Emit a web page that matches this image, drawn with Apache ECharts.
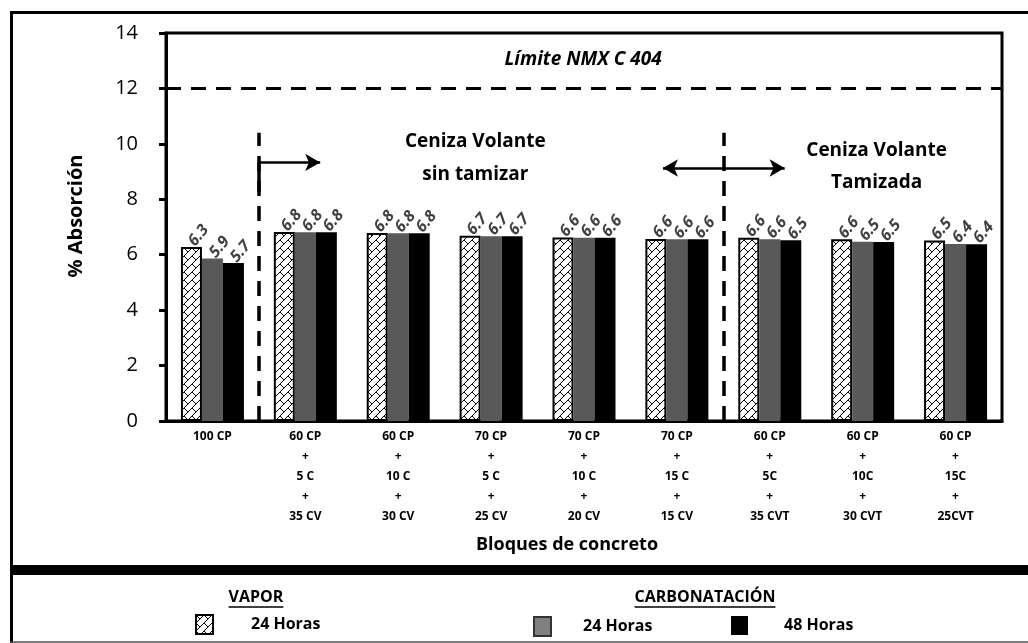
<!DOCTYPE html>
<html><head><meta charset="utf-8">
<script src="https://cdn.jsdelivr.net/npm/echarts@6/dist/echarts.min.js"></script>
<style>html,body{margin:0;padding:0;background:#fff}#c{width:1028px;height:643px}</style>
</head><body><div id="c"></div>
<script>
// ---- data ----
const categories = [
  '100 CP',
  '60 CP\n+\n5 C\n+\n35 CV',
  '60 CP\n+\n10 C\n+\n30 CV',
  '70 CP\n+\n5 C\n+\n25 CV',
  '70 CP\n+\n10 C\n+\n20 CV',
  '70 CP\n+\n15 C\n+\n15 CV',
  '60 CP\n+\n5C\n+\n35 CVT',
  '60 CP\n+\n10C\n+\n30 CVT',
  '60 CP\n+\n15C\n+\n25CVT'
];
const vapor24 = [6.28, 6.82, 6.78, 6.68, 6.62, 6.57, 6.61, 6.56, 6.51];
const carb24  = [5.86, 6.81, 6.77, 6.67, 6.61, 6.56, 6.56, 6.47, 6.39];
const carb48  = [5.70, 6.81, 6.77, 6.67, 6.61, 6.56, 6.52, 6.46, 6.38];
const seriesNames = ['Vapor 24 Horas', 'Carbonatación 24 Horas', 'Carbonatación 48 Horas'];
const limitValue = 12;
const limitText = 'Límite NMX C 404';
const yMin = 0, yMax = 14, yInterval = 2;
const sectionBounds = [1, 6];          // category boundaries for dashed dividers
const groupTexts = ['Ceniza Volante\nsin tamizar', 'Ceniza Volante\nTamizada'];
const legendHeads = ['VAPOR', 'CARBONATACIÓN'];

const FONT = 'Open Sans';

function hatch() {
  const c = document.createElement('canvas');
  c.width = 8; c.height = 8;
  const g = c.getContext('2d');
  g.fillStyle = '#fff'; g.fillRect(0, 0, 8, 8);
  g.strokeStyle = '#000'; g.lineWidth = 1;
  g.beginPath();
  g.moveTo(-1, 9); g.lineTo(9, -1);
  g.moveTo(0, 0); g.lineTo(4, 4);
  g.stroke();
  return c;
}
function textW(t, font) {
  const c = document.createElement('canvas').getContext('2d');
  c.font = font; return c.measureText(t).width;
}

const barLabel = {
  show: true, position: 'top', distance: 3, rotate: 50, align: 'left', verticalAlign: 'middle',
  fontFamily: FONT, fontStyle: 'italic', fontWeight: 'bold', fontSize: 16, color: '#404040',
  formatter: p => p.value.toFixed(1)
};

const dashV = { type: [15, 10], width: 3.5, color: '#000' };
const solid = { type: 'solid', width: 2.5, color: '#000' };

const chart = echarts.init(document.getElementById('c'), null, { renderer: 'canvas' });

const headFont = 'bold 16px "' + FONT + '"';
const w1 = textW(legendHeads[0], headFont), w2 = textW(legendHeads[1], headFont);

chart.setOption({
  animation: false,
  backgroundColor: '#fff',
  grid: { left: 166, right: 26, top: 33, bottom: 222, show: true, borderColor: '#000', borderWidth: 3 },
  xAxis: [{
    type: 'category', data: categories,
    axisLine: { lineStyle: { color: '#000', width: 3 } },
    axisTick: { show: false },
    axisLabel: { interval: 0, fontFamily: FONT, fontWeight: 'bold', fontSize: 12, color: '#000', lineHeight: 20, margin: 6 },
    name: 'Bloques de concreto', nameLocation: 'middle', nameGap: 115,
    nameTextStyle: { fontFamily: FONT, fontWeight: 'bold', fontSize: 18, color: '#000', padding: [0, 34, 0, 0] }
  }, {
    type: 'value', min: 0, max: categories.length, show: false
  }],
  yAxis: {
    type: 'value', min: yMin, max: yMax, interval: yInterval,
    axisLine: { show: true, lineStyle: { color: '#000', width: 3 } },
    axisTick: { show: true, length: 7, lineStyle: { color: '#000', width: 3 } },
    splitLine: { show: false },
    axisLabel: { fontFamily: FONT, fontSize: 20, color: '#000', margin: 28 },
    name: '% Absorción', nameLocation: 'middle', nameGap: 80, nameRotate: 90,
    nameTextStyle: { fontFamily: FONT, fontWeight: 'bold', fontSize: 20, color: '#000', padding: [0, 0, 0, 22] }
  },
  legend: [
    { data: [seriesNames[0]], left: 195, top: 614 },
    { data: [{ name: seriesNames[1], itemStyle: { color: '#808080', borderColor: '#333', borderWidth: 2 } }], left: 533, top: 616 },
    { data: [seriesNames[2]], left: 731, top: 616 }
  ].map((l, i) => Object.assign(l, {
    icon: 'rect', itemWidth: 17, itemHeight: 19, selectedMode: false, padding: 0,
    formatter: n => n.split(' ').slice(-2).join(' '),
    textStyle: { fontFamily: FONT, fontWeight: 'bold', fontSize: 16, color: '#000', padding: [0, 0, 0, [33, 27, 31][i]] }
  })),
  graphic: [
    { type: 'rect', z: -10, shape: { x: 11.5, y: 12.5, width: 1040, height: 554 }, style: { fill: 'none', stroke: '#000', lineWidth: 3 } },
    { type: 'rect', z: -10, shape: { x: 10, y: 567, width: 1030, height: 8 }, style: { fill: '#000' } },
    { type: 'line', z: -10, shape: { x1: 11.5, y1: 575, x2: 11.5, y2: 643 }, style: { stroke: '#000', lineWidth: 3 } },
    { type: 'line', z: -10, shape: { x1: 10, y1: 642, x2: 1028, y2: 642 }, style: { stroke: '#555', lineWidth: 1.5 } },
    { type: 'text', x: 256, y: 597, style: { text: legendHeads[0], font: headFont, fill: '#000', align: 'center', verticalAlign: 'middle' } },
    { type: 'line', shape: { x1: 256 - w1 / 2, y1: 607, x2: 256 + w1 / 2, y2: 607 }, style: { stroke: '#000', lineWidth: 1.5 } },
    { type: 'text', x: 705, y: 597, style: { text: legendHeads[1], font: headFont, fill: '#000', align: 'center', verticalAlign: 'middle' } },
    { type: 'line', shape: { x1: 705 - w2 / 2, y1: 607, x2: 705 + w2 / 2, y2: 607 }, style: { stroke: '#000', lineWidth: 1.5 } }
  ],
  series: [
    { name: seriesNames[0], type: 'bar', data: vapor24, barWidth: 21, barGap: '0%',
      itemStyle: { color: { image: hatch(), repeat: 'repeat' }, borderColor: '#000', borderWidth: 2 },
      label: barLabel },
    { name: seriesNames[1], type: 'bar', data: carb24, barWidth: 21, barGap: '0%',
      itemStyle: { color: '#595959' }, label: barLabel },
    { name: seriesNames[2], type: 'bar', data: carb48, barWidth: 21, barGap: '0%',
      itemStyle: { color: '#000' }, label: barLabel },
    { type: 'scatter', xAxisIndex: 1, yAxisIndex: 0, data: [], silent: true,
      markLine: {
        silent: true, symbol: 'none', label: { show: false }, animation: false,
        data: [
          { yAxis: limitValue, lineStyle: { type: [15, 10], width: 3, color: '#000' } },
          [{ coord: [sectionBounds[0], 0], lineStyle: dashV }, { coord: [sectionBounds[0], 10.4] }],
          [{ coord: [sectionBounds[1], 0], lineStyle: dashV }, { coord: [sectionBounds[1], 10.4] }],
          [{ coord: [sectionBounds[0], 9.33], lineStyle: { type: 'solid', width: 3.5, color: '#000' } }, { coord: [sectionBounds[0], 8.26] }],
          [{ coord: [sectionBounds[0], 9.33], symbol: 'none', lineStyle: solid }, { coord: [1.66, 9.33], symbol: 'arrow', symbolSize: [13, 15] }],
          [{ coord: [5.35, 9.13], symbol: 'arrow', symbolSize: [13, 15], lineStyle: solid }, { coord: [6.66, 9.13], symbol: 'arrow', symbolSize: [13, 15] }]
        ]
      },
      markPoint: {
        silent: true, symbol: 'circle', symbolSize: 1, itemStyle: { color: 'rgba(0,0,0,0)' },
        label: { show: true, position: 'inside', fontFamily: FONT, fontWeight: 'bold', fontSize: 19, color: '#000' },
        data: [
          { coord: [3.33, 9.48], label: { formatter: groupTexts[0], lineHeight: 33 } },
          { coord: [7.65, 9.17], label: { formatter: groupTexts[1], lineHeight: 32 } },
          { coord: [4.49, 13.03], label: { formatter: limitText, fontStyle: 'italic', fontSize: 19 } }
        ]
      }
    }
  ]
});
</script></body></html>
